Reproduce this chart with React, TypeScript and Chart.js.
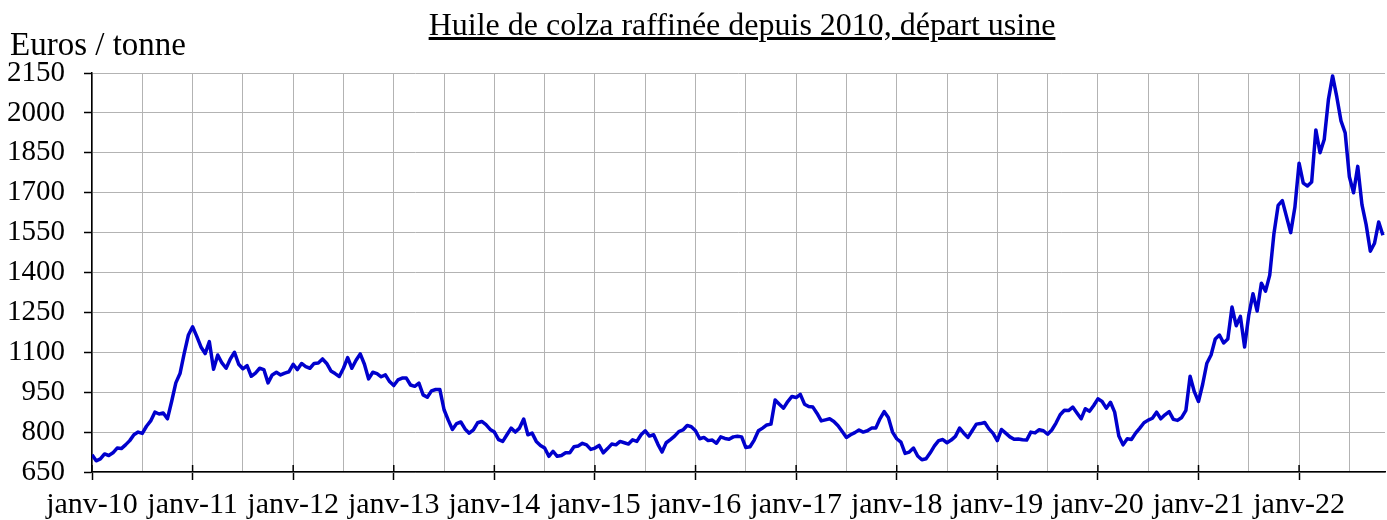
import React, { useEffect, useRef } from "react";
import { Chart, registerables } from "chart.js";

Chart.register(...registerables);

// Semi-monthly price samples (euros / tonne), starting janv-2010
const v2010 = [715, 692, 699, 718, 712, 722, 740, 738, 752, 768, 790, 800, 795, 822, 842, 875, 868, 872, 850, 915, 985, 1020, 1096, 1165];
const v2011 = [1196, 1160, 1120, 1095, 1140, 1036, 1090, 1060, 1040, 1075, 1100, 1055, 1038, 1050, 1010, 1022, 1040, 1035, 985, 1015, 1025, 1015, 1022, 1027];
const v2012 = [1055, 1035, 1058, 1046, 1040, 1058, 1060, 1075, 1058, 1030, 1020, 1009, 1040, 1080, 1040, 1070, 1094, 1055, 1000, 1025, 1020, 1008, 1015, 990];
const v2013 = [975, 996, 1003, 1003, 977, 972, 984, 940, 931, 955, 960, 960, 884, 845, 810, 832, 838, 812, 796, 808, 835, 840, 828, 810];
const v2014 = [800, 772, 765, 790, 815, 800, 815, 849, 790, 796, 765, 750, 740, 709, 728, 709, 712, 722, 722, 745, 748, 758, 752, 735];
const v2015 = [740, 750, 722, 738, 755, 752, 765, 760, 755, 771, 765, 790, 805, 785, 790, 755, 725, 760, 772, 785, 802, 808, 825, 820];
const v2016 = [805, 775, 780, 768, 770, 758, 782, 776, 773, 782, 784, 782, 742, 745, 770, 805, 815, 827, 830, 921, 905, 890, 915, 934];
const v2017 = [930, 942, 905, 896, 894, 870, 842, 846, 850, 840, 824, 802, 780, 790, 798, 808, 800, 805, 815, 815, 850, 877, 855, 800];
const v2018 = [775, 762, 720, 725, 740, 710, 696, 700, 722, 748, 768, 772, 760, 770, 784, 815, 796, 780, 805, 830, 832, 836, 812, 795];
const v2019 = [768, 810, 796, 782, 773, 774, 771, 770, 800, 797, 809, 805, 792, 808, 834, 865, 882, 881, 894, 872, 850, 888, 878, 900];
const v2020 = [925, 915, 890, 912, 875, 785, 752, 775, 772, 796, 815, 835, 845, 852, 875, 850, 865, 877, 848, 844, 855, 882, 1010, 952];
const v2021 = [915, 980, 1059, 1090, 1150, 1165, 1135, 1150, 1270, 1200, 1235, 1120, 1240, 1320, 1255, 1360, 1330, 1390, 1546, 1652, 1670, 1610, 1550, 1645];
const v2022 = [1811, 1736, 1725, 1740, 1936, 1850, 1900, 2050, 2139, 2060, 1970, 1925, 1760, 1700, 1799, 1655, 1580, 1480, 1510, 1590, 1540];

const series = [
  ...v2010, ...v2011, ...v2012, ...v2013, ...v2014, ...v2015, ...v2016,
  ...v2017, ...v2018, ...v2019, ...v2020, ...v2021, ...v2022,
];

const STEPS_PER_YEAR = 24; // half-month steps
const X_MAX = 308.5;
const Y_MIN = 650;
const Y_MAX = 2150;
const Y_STEP = 150;

const xTickLabels = [
  "janv-10", "janv-11", "janv-12", "janv-13", "janv-14", "janv-15", "janv-16",
  "janv-17", "janv-18", "janv-19", "janv-20", "janv-21", "janv-22",
];

const TITLE = "Huile de colza raffinée depuis 2010, départ usine";
const Y_TITLE = "Euros / tonne";

const FONT = "'Liberation Serif', 'Times New Roman', serif";

export default function App() {
  const ref = useRef<HTMLCanvasElement | null>(null);

  useEffect(() => {
    if (!ref.current) return;
    const points = series.map((v, i) => ({ x: i, y: v }));

    const yearTickPlugin = {
      id: "yearTicksInside",
      afterDraw(chart: any) {
        const xs = chart.scales.x;
        const ctx = chart.ctx;
        const bottom = chart.chartArea.bottom;
        ctx.save();
        ctx.strokeStyle = "#000";
        ctx.lineWidth = 1.5;
        for (let k = 0; k < xTickLabels.length; k++) {
          const px = xs.getPixelForValue(k * STEPS_PER_YEAR);
          ctx.beginPath();
          ctx.moveTo(px, bottom - 7);
          ctx.lineTo(px, bottom);
          ctx.stroke();
        }
        ctx.restore();
      },
    };

    const chart = new Chart(ref.current, {
      type: "line",
      data: {
        datasets: [
          {
            data: points,
            borderColor: "#0000cd",
            borderWidth: 3.5,
            pointRadius: 0,
            tension: 0,
            fill: false,
            borderJoinStyle: "round",
          },
        ],
      },
      options: {
        animation: false,
        responsive: false,
        maintainAspectRatio: false,
        layout: { padding: { top: 73, right: 2, left: 0, bottom: 0 } },
        plugins: {
          legend: { display: false },
          tooltip: { enabled: false },
          title: { display: false },
        },
        scales: {
          x: {
            type: "linear",
            min: 0,
            max: X_MAX,
            afterBuildTicks: (s: any) => {
              const t = [];
              for (let v = 0; v <= X_MAX; v += STEPS_PER_YEAR / 2) t.push({ value: v });
              s.ticks = t;
            },
            ticks: {
              autoSkip: false,
              maxRotation: 0,
              minRotation: 0,
              padding: 7,
              color: "#000",
              font: { family: FONT, size: 30 },
              callback: (v: any) =>
                v % STEPS_PER_YEAR === 0 ? xTickLabels[v / STEPS_PER_YEAR] : "",
            },
            grid: {
              color: "#b3b3b3",
              lineWidth: 1,
              tickLength: 8,
              tickColor: (c: any) =>
                c.tick && c.tick.value % STEPS_PER_YEAR === 0 ? "#000" : "rgba(0,0,0,0)",
              tickWidth: 1.5,
            },
            border: { color: "#000", width: 1.5 },
            afterFit: (s: any) => {
              s.height = 48;
            },
          },
          y: {
            type: "linear",
            min: Y_MIN,
            max: Y_MAX,
            ticks: {
              stepSize: Y_STEP,
              padding: 19,
              color: "#000",
              font: { family: FONT, size: 29 },
              callback: (v: any) => String(v),
            },
            grid: {
              color: "#b3b3b3",
              lineWidth: 1,
              tickLength: 8,
              tickColor: "#000",
              tickWidth: 1.5,
            },
            border: { color: "#000", width: 1.5 },
            afterFit: (s: any) => {
              s.width = 92;
            },
          },
        },
      },
      plugins: [yearTickPlugin],
    } as any);

    return () => chart.destroy();
  }, []);

  return (
    <div
      style={{
        position: "fixed",
        left: 0,
        top: 0,
        width: 1387,
        height: 520,
        background: "#fff",
        overflow: "hidden",
      }}
    >
      <canvas ref={ref} width={1387} height={520} style={{ position: "absolute", left: 0, top: 0 }} />
      <div
        style={{
          position: "absolute",
          left: 742,
          top: 8,
          transform: "translateX(-50%)",
          whiteSpace: "nowrap",
          fontFamily: FONT,
          fontSize: 32,
          lineHeight: 1,
          textDecoration: "underline",
          color: "#000",
        }}
      >
        {TITLE}
      </div>
      <div
        style={{
          position: "absolute",
          left: 10,
          top: 28,
          whiteSpace: "nowrap",
          fontFamily: FONT,
          fontSize: 33,
          lineHeight: 1,
          color: "#000",
        }}
      >
        {Y_TITLE}
      </div>
    </div>
  );
}
